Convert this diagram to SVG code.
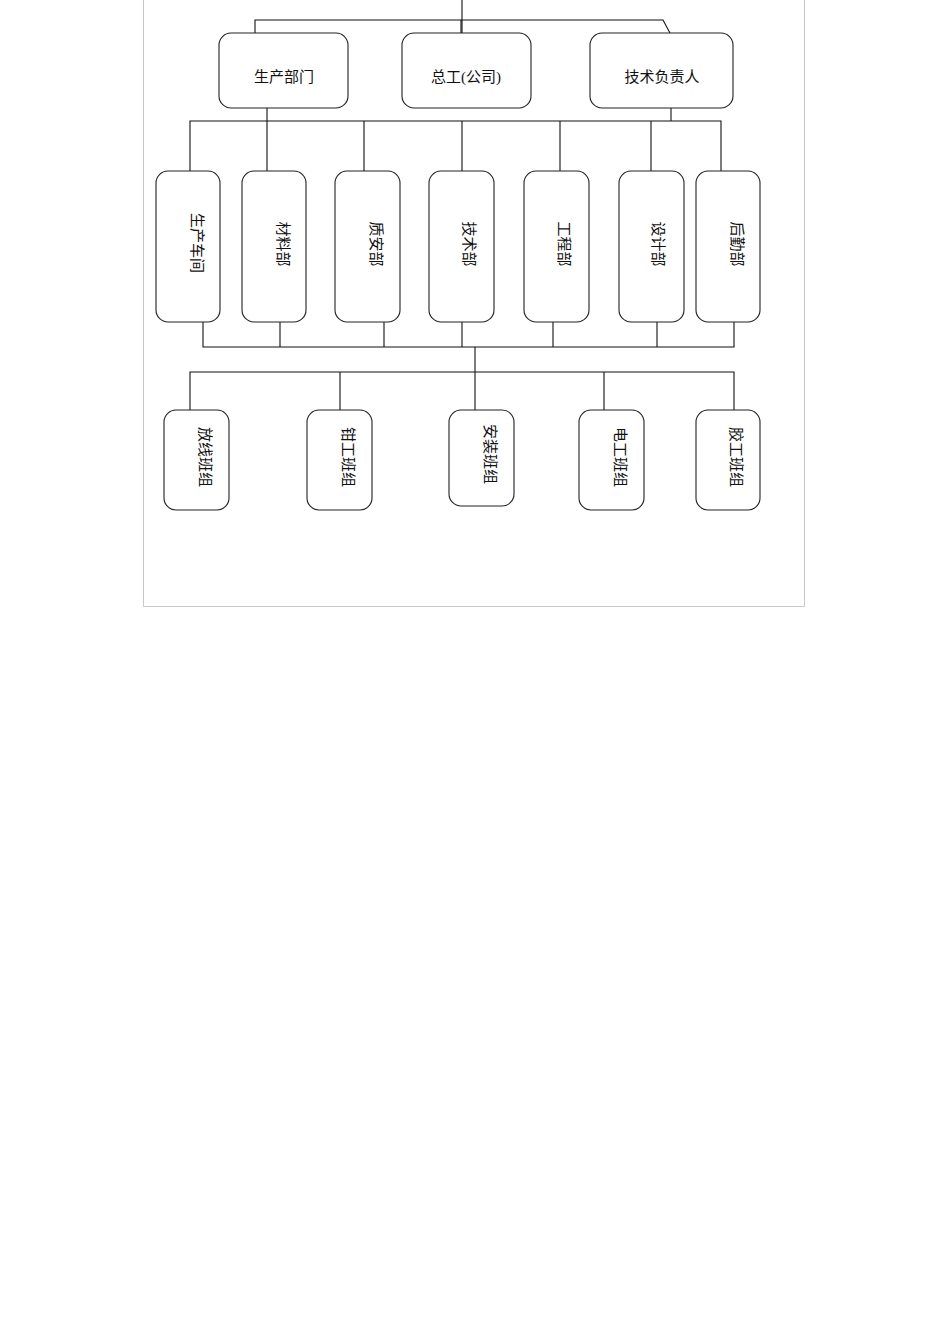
<svg xmlns="http://www.w3.org/2000/svg" width="950" height="1344" viewBox="0 0 950 1344">
<style>
.box{fill:#fff;stroke:#222;stroke-width:1.1}
.ln{fill:none;stroke:#111;stroke-width:1.1}
.t{font-family:"Liberation Serif","Noto Sans CJK SC",serif;font-size:15px;fill:#111;text-anchor:middle;dominant-baseline:central}
</style>
<rect x="0" y="0" width="950" height="1344" fill="#fff"/>
<path d="M143.5 0 V606.5 H804.5 V0" fill="none" stroke="#c8c8c8" stroke-width="1"/>
<g id="connectors">
<path class="ln" d="M462 0 V33"/>
<path class="ln" d="M461 20 V33" stroke-width="2"/>
<path class="ln" d="M255 33 V20 H663 L670 33"/>
<path class="ln" d="M267 108 V121"/>
<path class="ln" d="M671 108 V121"/>
<path class="ln" d="M190 171 V121 H721 V171"/>
<path class="ln" d="M267 121 V171 M364 121 V171 M462 121 V171 M560 121 V171 M651 121 V171"/>
<path class="ln" d="M203 322 V347 H734 V322"/>
<path class="ln" d="M280 322 V347 M384 322 V347 M462 322 V347 M553 322 V347 M657 322 V347"/>
<path class="ln" d="M475 347 V410"/>
<path class="ln" d="M190 410 V372 H734 V410"/>
<path class="ln" d="M340 372 V410 M604 372 V410"/>
</g>
<g id="n-shengchanbumen"><rect class="box" x="219" y="33" width="129" height="75" rx="12"/><text class="t" x="284" y="77">生产部门</text></g>
<g id="n-zonggong"><rect class="box" x="402" y="33" width="129" height="75" rx="12"/><text class="t" x="466" y="77">总工(公司)</text></g>
<g id="n-jishufuzeren"><rect class="box" x="590" y="33" width="143" height="75" rx="12"/><text class="t" x="662" y="77">技术负责人</text></g>
<g id="n-shengchanchejian"><rect class="box" x="156" y="171" width="64" height="151" rx="12"/><text class="t" transform="translate(197,243) rotate(90)">生产车间</text></g>
<g id="n-cailiaobu"><rect class="box" x="242" y="171" width="64" height="151" rx="12"/><text class="t" transform="translate(283,244) rotate(90)">材料部</text></g>
<g id="n-zhianbu"><rect class="box" x="335" y="171" width="65" height="151" rx="12"/><text class="t" transform="translate(376,244) rotate(90)">质安部</text></g>
<g id="n-jishubu"><rect class="box" x="429" y="171" width="65" height="151" rx="12"/><text class="t" transform="translate(469,244) rotate(90)">技术部</text></g>
<g id="n-gongchengbu"><rect class="box" x="524" y="171" width="65" height="151" rx="12"/><text class="t" transform="translate(564,244) rotate(90)">工程部</text></g>
<g id="n-shejibu"><rect class="box" x="619" y="171" width="65" height="151" rx="12"/><text class="t" transform="translate(658,244) rotate(90)">设计部</text></g>
<g id="n-houqinbu"><rect class="box" x="696" y="171" width="64" height="151" rx="12"/><text class="t" transform="translate(737,244) rotate(90)">后勤部</text></g>
<g id="n-fangxian"><rect class="box" x="164" y="410" width="65" height="100" rx="12"/><text class="t" transform="translate(205,457) rotate(90)">放线班组</text></g>
<g id="n-qiangong"><rect class="box" x="307" y="410" width="65" height="100" rx="12"/><text class="t" transform="translate(348,457) rotate(90)">钳工班组</text></g>
<g id="n-anzhuang"><rect class="box" x="449" y="410" width="65" height="96" rx="12"/><text class="t" transform="translate(490,454) rotate(90)">安装班组</text></g>
<g id="n-diangong"><rect class="box" x="579" y="410" width="65" height="100" rx="12"/><text class="t" transform="translate(620,457) rotate(90)">电工班组</text></g>
<g id="n-jiaogong"><rect class="box" x="696" y="410" width="64" height="100" rx="12"/><text class="t" transform="translate(736,457) rotate(90)">胶工班组</text></g>
</svg>
